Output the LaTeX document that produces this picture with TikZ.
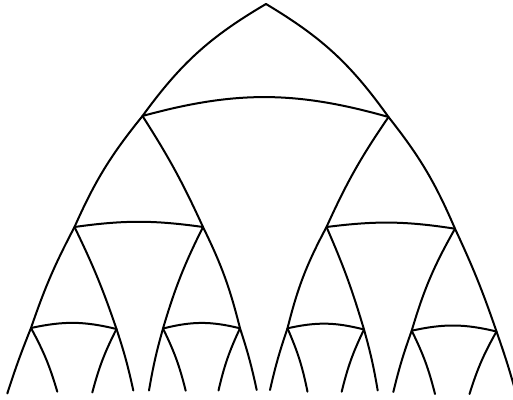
\documentclass[tikz,border=0pt]{standalone}
\begin{document}
\begin{tikzpicture}[x=1pt,y=-1pt,line width=2pt,line cap=round,line join=round,
  curve/.style={draw=black},
  cross/.style={draw=black}]
\useasboundingbox (0,0) rectangle (513,399);
\clip (0,0) rectangle (513,399);
% junctions
\coordinate (T) at (266,4);
\coordinate (L1) at (142.5,116);
\coordinate (R1) at (388.5,117);
\coordinate (LL2) at (74.5,227);
\coordinate (LR2) at (203,227);
\coordinate (RL2) at (326.5,227);
\coordinate (RR2) at (455,228.7);
\coordinate (A3) at (31,328);
\coordinate (B3) at (116.5,329);
\coordinate (C3) at (163,328.5);
\coordinate (D3) at (240,328.3);
\coordinate (E3) at (287.5,328.3);
\coordinate (F3) at (364,329.5);
\coordinate (G3) at (411.7,330.7);
\coordinate (H3) at (496.5,331.5);
% free ends at the bottom
\coordinate (oL) at (7.3,393.5);
\coordinate (oR) at (517,397);
\coordinate (iL) at (256.7,390);
\coordinate (iR) at (270,390);
\coordinate (bL) at (133.3,390.5);
\coordinate (cL) at (149,390.5);
\coordinate (fR) at (377.7,390.5);
\coordinate (gR) at (393.3,392);
\coordinate (a4) at (57.3,391.7);
\coordinate (b4) at (92.3,392.5);
\coordinate (c4) at (185.7,390.7);
\coordinate (d4) at (218.5,390.5);
\coordinate (e4) at (307.5,391.7);
\coordinate (f4) at (341.7,391.7);
\coordinate (g4) at (435,394);
\coordinate (h4) at (469.5,394);
% outer curves
\draw[curve] (T) to[bend right=11.8] (L1) to[bend right=7.5] (LL2)
  to[bend right=4.4] (A3) to[bend right=2] (oL);
\draw[curve] (T) to[bend left=11.8] (R1) to[bend left=7.5] (RR2)
  to[bend left=3] (H3) to[bend left=2] (oR);
% second level
\draw[curve] (L1) to[bend left=4] (LR2) to[bend left=6] (D3) to[bend left=3] (iL);
\draw[curve] (R1) to[bend right=5] (RL2) to[bend right=7] (E3) to[bend right=3] (iR);
% third level
\draw[curve] (LL2) to[bend left=3.5] (B3) to[bend left=3] (bL);
\draw[curve] (LR2) to[bend right=5] (C3) to[bend right=3] (cL);
\draw[curve] (RL2) to[bend left=3.5] (F3) to[bend left=3] (fR);
\draw[curve] (RR2) to[bend right=6.5] (G3) to[bend right=3] (gR);
% fourth level
\draw[curve] (A3) to[bend left=6] (a4);
\draw[curve] (B3) to[bend right=6] (b4);
\draw[curve] (C3) to[bend left=6] (c4);
\draw[curve] (D3) to[bend right=6] (d4);
\draw[curve] (E3) to[bend left=6] (e4);
\draw[curve] (F3) to[bend right=6] (f4);
\draw[curve] (G3) to[bend left=6] (g4);
\draw[curve] (H3) to[bend right=6] (h4);
% cross arcs
\draw[cross] (L1) to[bend left=15.6] (R1);
\draw[cross] (LL2) to[bend left=8] (LR2);
\draw[cross] (RL2) to[bend left=8] (RR2);
\draw[cross] (A3) to[bend left=13] (B3);
\draw[cross] (C3) to[bend left=14] (D3);
\draw[cross] (E3) to[bend left=13.5] (F3);
\draw[cross] (G3) to[bend left=13] (H3);
\end{tikzpicture}
\end{document}
